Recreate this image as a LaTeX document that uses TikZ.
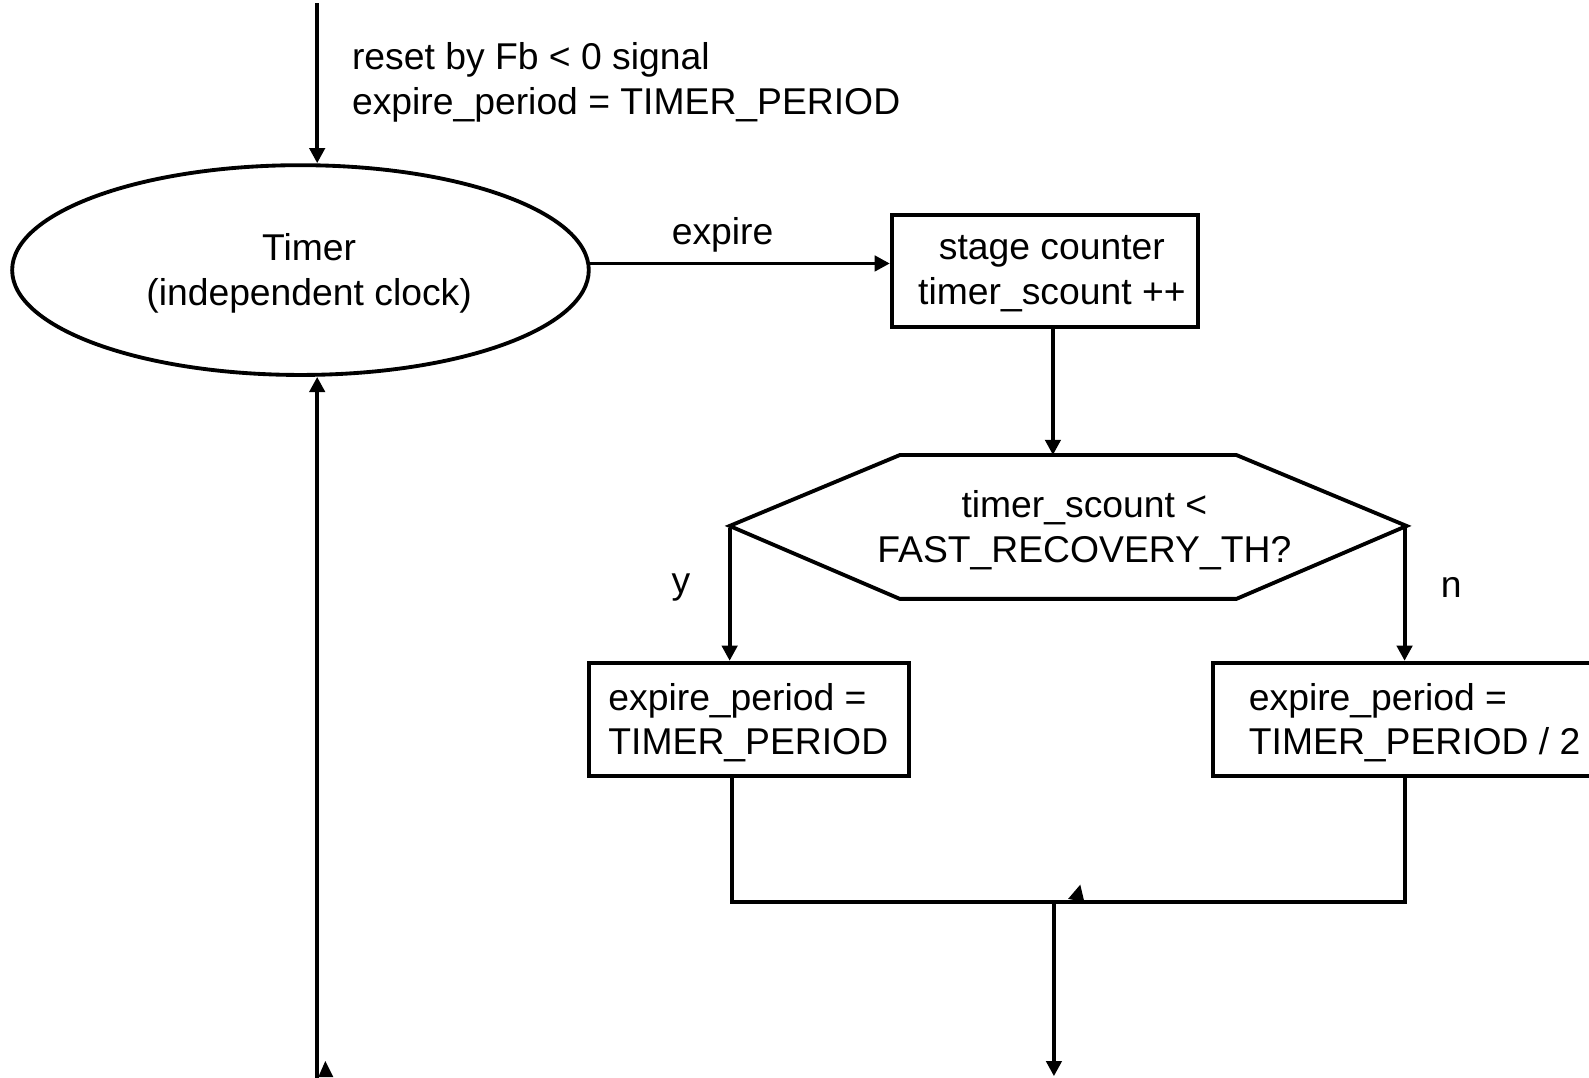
\documentclass[tikz,border=0pt]{standalone}
\usepackage{fontspec}
\setmainfont{Liberation Sans}
\usetikzlibrary{shapes.geometric,arrows.meta}
\begin{document}
\begin{tikzpicture}[x=0.5pt,y=-0.5pt,
  every node/.style={font=\fontsize{18.4}{22}\selectfont},
  ln/.style={line width=1.9pt},
  arr/.style={ln,-{Triangle[length=7.5pt,width=7.5pt]}},
  boxst/.style={draw,line width=1.9pt,rectangle},
  lbl/.style={inner sep=0pt}]
\useasboundingbox (0,0) rectangle (1568,1063);
\clip (0,0) rectangle (1568,1063);
% timer ellipse
\node[ellipse,draw,line width=1.9pt,minimum width=284.5pt,minimum height=103.5pt,inner sep=0pt] (tim) at (296.5,266.5) {};
\node[align=center,lbl] (timtxt) at (305,270) {Timer\\(independent clock)};
% incoming reset
\coordinate (topin) at (313,3);
\node[anchor=west,align=left,lbl] (reset) at (347,81) {reset by Fb < 0 signal\\expire\_period = TIMER\_PERIOD};
\draw[arr] (topin) -- (tim.north -| topin);
% stage counter
\node[boxst,minimum width=151pt,minimum height=55.5pt,inner sep=0pt] (box1) at (1031,267.5) {};
\node[align=center,lbl] (box1txt) at (1038,270) {stage counter\\timer\_scount ++};
\coordinate (expS) at (581,260);
\draw[arr] (expS) -- (expS -| box1.west);
\node[lbl] (lblexp) at (713,232) {expire};
% hexagon decision
\coordinate (hexT) at (1039,449);
\coordinate (hexL) at (720,519);
\coordinate (hexR) at (1388,519);
\draw[ln,line join=miter] (888,449) -- (1220,449) -- (hexR) -- (1220,591) -- (888,591) -- (hexL) -- cycle;
\node[align=center,lbl] (dec) at (1070,523) {timer\_scount <\\FAST\_RECOVERY\_TH?};
\draw[arr] (box1.south -| hexT) -- (hexT);
% branches
\node[boxst,minimum width=158pt,minimum height=56pt,align=left,text width=139pt,inner xsep=9.5pt,inner ysep=0pt] (box2) at (739,710) {};
\node[anchor=west,align=left,lbl] (box2txt) at (600,713) {expire\_period =\\TIMER\_PERIOD};
\node[boxst,minimum width=211.5pt,minimum height=56pt,inner sep=0pt] (box3) at (1408.5,710) {};
\node[anchor=west,align=left,lbl] (box3txt) at (1232,713) {expire\_period =\\TIMER\_PERIOD / 2};
\coordinate (yL) at (720,521);
\coordinate (nR) at (1386,521);
\draw[arr] (yL) -- (box2.north -| yL);
\draw[arr] (nR) -- (box3.north -| nR);
\node[lbl] (ylbl) at (672,580) {y};
\node[lbl] (nlbl) at (1432,580) {n};
% join
\coordinate (joinL) at (722,890);
\coordinate (joinR) at (1386,890);
\coordinate (joinM) at (1040,890);
\draw[ln,line join=miter] (box2.south -| joinL) -- (joinL) -- (joinR) -- (box3.south -| joinR);
\fill (1054,887) -- (1066,873) -- (1070,890) -- cycle;
\coordinate (outB) at (1040,1062);
\draw[arr] (joinM) -- (outB);
% loop back to timer
\coordinate (inB) at (313,1070);
\draw[arr] (inB) -- (tim.south -| inB);
\fill (314,1063) -- (321,1047) -- (329,1063) -- cycle;
\end{tikzpicture}
\end{document}
